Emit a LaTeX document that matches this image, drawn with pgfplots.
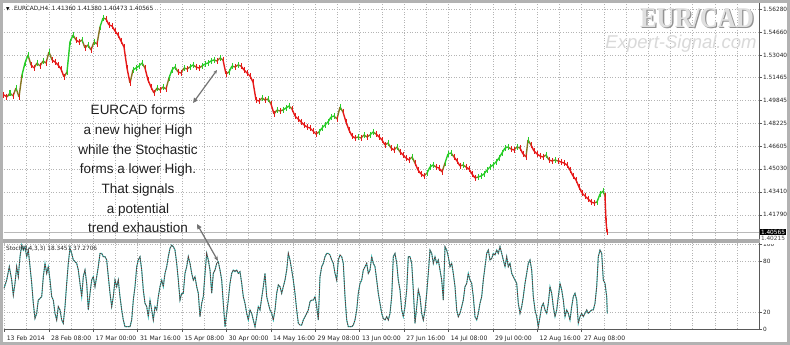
\documentclass[border=0pt]{standalone}
\usepackage{pgfplots}
\pgfplotsset{compat=1.18}
\usepackage{pgfplotstable}
\usepackage{fontspec}
\setmainfont{DejaVu Sans}
\newfontfamily\annfont{Liberation Sans}
\newfontfamily\wmserif{Liberation Serif}
\usetikzlibrary{arrows.meta}
\definecolor{cgreen}{RGB}{40,205,40}
\definecolor{cred}{RGB}{230,25,25}
\definecolor{kline}{RGB}{32,178,170}
\definecolor{dline}{RGB}{120,35,35}
\definecolor{gridc}{RGB}{180,180,180}

\pgfplotstableread{
x p c
4 1.50226 0
7 1.50085 0
10 1.50366 1
13 1.50155 0
16 1.50718 1
19 1.50085 0
22 1.51634 1
25 1.52478 1
28 1.53042 1
31 1.52338 0
34 1.52126 0
37 1.52478 1
40 1.52267 0
43 1.52619 1
46 1.52478 0
49 1.53253 1
52 1.52690 0
55 1.52549 0
58 1.52338 0
61 1.52056 0
64 1.51493 0
67 1.51845 1
70 1.53957 1
73 1.54450 1
76 1.54098 0
79 1.53957 0
82 1.54098 1
85 1.53534 0
88 1.53746 1
91 1.53394 0
94 1.53957 1
97 1.53816 0
100 1.55013 1
103 1.55646 1
106 1.55576 0
109 1.55154 0
112 1.55083 0
115 1.54731 0
118 1.54450 0
121 1.54027 0
124 1.53605 0
127 1.52126 0
130 1.51070 0
133 1.51986 1
136 1.52126 1
139 1.52267 1
142 1.52478 1
145 1.52126 0
148 1.51282 0
151 1.50789 0
154 1.50366 0
157 1.50718 1
160 1.50578 0
163 1.50789 1
166 1.50648 0
169 1.51422 1
172 1.51986 1
175 1.52197 1
178 1.51845 0
181 1.51774 0
184 1.52126 1
187 1.52056 0
190 1.52197 1
193 1.52338 1
196 1.52197 0
199 1.52126 0
202 1.52267 1
205 1.52408 1
208 1.52478 1
211 1.52619 1
214 1.52690 1
217 1.52619 0
220 1.52830 1
223 1.52690 0
226 1.51704 0
229 1.51845 1
232 1.52267 1
235 1.52197 0
238 1.52338 1
241 1.52267 0
244 1.51986 0
247 1.51774 0
250 1.51563 0
253 1.51141 0
256 1.49874 0
259 1.49803 0
262 1.50014 1
265 1.49874 0
268 1.49944 1
271 1.49592 0
274 1.48888 0
277 1.49170 1
280 1.49099 0
283 1.49170 1
286 1.49310 1
289 1.49451 1
292 1.49240 0
295 1.48747 0
298 1.48536 0
301 1.48325 0
304 1.48114 0
307 1.47973 0
310 1.47902 0
313 1.47691 0
316 1.47480 0
319 1.47621 1
322 1.47902 1
325 1.48114 1
328 1.48325 1
331 1.48677 1
334 1.48747 1
337 1.48536 0
340 1.49381 1
343 1.49029 0
346 1.48325 0
349 1.47762 0
352 1.47339 0
355 1.47198 0
358 1.47269 1
361 1.47198 0
364 1.47410 1
367 1.47269 0
370 1.47410 1
373 1.47621 1
376 1.47480 0
379 1.47269 0
382 1.47058 0
385 1.46706 0
388 1.46846 1
391 1.46494 0
394 1.46354 0
397 1.46565 1
400 1.46213 0
403 1.46002 0
406 1.45790 0
409 1.45650 0
412 1.45861 1
415 1.45438 0
418 1.44946 0
421 1.44664 0
424 1.44523 0
427 1.44734 1
430 1.45157 1
433 1.45298 1
436 1.45157 0
439 1.45086 0
442 1.44805 0
445 1.45438 1
448 1.46072 1
451 1.46142 1
454 1.45861 0
457 1.45579 0
460 1.45227 0
463 1.45298 1
466 1.45157 0
469 1.45016 0
472 1.44664 0
475 1.44382 0
478 1.44453 1
481 1.44523 1
484 1.44664 1
487 1.44946 1
490 1.45157 1
493 1.45298 1
496 1.45509 1
499 1.45790 1
502 1.46142 1
505 1.46494 1
508 1.46565 1
511 1.46424 0
514 1.46354 0
517 1.46565 1
520 1.46494 0
523 1.46072 0
526 1.45861 0
528 1.47058 1
531 1.46706 0
534 1.46283 0
537 1.46072 0
540 1.45931 0
543 1.45861 0
546 1.46002 1
549 1.45650 0
552 1.45579 0
555 1.45650 1
558 1.45579 0
561 1.45509 0
564 1.45438 0
567 1.45298 0
570 1.44946 0
573 1.44523 0
576 1.44242 0
579 1.43749 0
582 1.43326 0
585 1.43115 0
588 1.42904 0
591 1.42693 0
594 1.42622 0
597 1.42693 1
600 1.43256 1
603 1.43467 1
605 1.43115 0
606 1.41360 0
607 1.40565 0
}\price

\pgfplotstableread{
x v
4 47.8
6.7 57.6
9.3 73.3
11.7 57.6
13.3 40.0
15 53.7
16.7 73.3
18.3 61.6
20 85.1
21.7 98.8
23.3 92.9
25 96.9
26.7 85.1
28.3 92.9
30 73.3
31.7 53.7
33.3 30.2
35 12.5
36.7 18.4
38.3 34.1
40 36.1
41.7 38.0
43.3 61.6
45 77.3
46.7 65.5
48.3 73.3
50 57.6
51.7 38.0
53.3 34.1
55 18.4
56.7 10.6
58.3 26.3
60 22.4
61.7 10.6
63.3 6.7
65 26.3
66.7 53.7
68.3 77.3
70 94.9
71.7 89.0
73.3 81.2
75 79.2
76.7 77.3
78.3 69.4
80 53.7
81.7 38.0
83.3 61.6
85 69.4
86.7 53.7
88.3 22.4
90 42.0
91.7 57.6
93.3 61.6
95 49.8
96.7 61.6
98.3 73.3
100 89.0
101.7 89.0
103.3 85.1
105 85.1
106.7 81.2
108.3 61.6
110 42.0
111.7 26.3
113.3 38.0
115 57.6
116.7 49.8
118.3 57.6
120 38.0
121.7 22.4
123.3 10.6
125 2.7
126.7 2.7
128.3 2.7
130 2.7
131.7 10.6
133.3 34.1
135 49.8
136.7 73.3
138.3 81.2
140 85.1
141.7 69.4
143.3 45.9
145 30.2
146.7 26.3
148.3 14.5
150 34.1
151.7 22.4
153.3 10.6
155 26.3
156.7 22.4
158.3 38.0
160 49.8
161.7 57.6
163.3 49.8
165 65.5
166.7 73.3
168.3 85.1
170 94.9
171.7 98.8
173.3 96.9
175 92.9
176.7 77.3
178.3 57.6
180 34.1
181.7 42.0
183.3 42.0
185 65.5
186.7 73.3
188.3 85.1
190 77.3
191.7 65.5
193.3 57.6
195 61.6
196.7 49.8
198.3 42.0
200 14.5
201.7 30.2
203.3 38.0
205 65.5
206.7 89.0
208.3 81.2
210 69.4
211.7 42.0
213.3 65.5
215 69.4
216.7 77.3
218.3 79.2
220 69.4
221.7 57.6
223.3 30.2
225 2.7
226.7 18.4
228.3 34.1
230 53.7
231.7 65.5
233.3 69.4
235 67.5
236.7 69.4
238.3 65.5
240 67.5
241.7 53.7
243.3 38.0
245 30.2
246.7 18.4
248.3 10.6
250 22.4
251.7 18.4
253.3 10.6
255 2.7
256.7 14.5
258.3 26.3
260 22.4
263.3 49.8
265 65.5
266.7 38.0
268.3 30.2
270 22.4
271.7 18.4
273.3 10.6
275 22.4
276.7 42.0
278.3 51.8
280 49.8
281.7 42.0
283.3 49.8
285 57.6
286.7 69.4
288.3 89.0
290 81.2
291.7 69.4
293.3 57.6
295 42.0
296.7 22.4
298.3 6.7
300 4.7
301.7 4.7
303.3 10.6
305 14.5
306.7 18.4
308.3 22.4
310 32.2
311.7 34.1
313.3 34.1
315 38.0
316.7 26.3
318.3 10.6
320 61.6
321.7 73.3
323.3 77.3
325 85.1
326.7 89.0
328.3 89.0
330 87.1
331.7 81.2
333.3 77.3
335 65.5
336.7 57.6
338.3 81.2
340 87.1
341.7 85.1
343.3 77.3
345 38.0
346.7 10.6
348.3 2.7
350 2.7
351.7 2.7
353.3 4.7
355 10.6
356.7 22.4
358.3 42.0
360 53.7
361.7 57.6
363.3 69.4
365 73.3
366.7 77.3
368.3 65.5
370 69.4
371.7 85.1
373.3 77.3
375 73.3
376.7 57.6
378.3 42.0
380 30.2
381.7 18.4
383.3 12.5
385 10.6
386.7 14.5
388.3 10.6
390 18.4
391.7 38.0
393.3 85.1
395 89.0
396.7 77.3
398.3 57.6
400 45.9
401.7 22.4
403.3 14.5
405 26.3
406.7 45.9
408.3 85.1
410 85.1
411.7 77.3
413.3 45.9
415 6.7
416.7 26.3
418.3 45.9
420 38.0
421.7 18.4
423.3 10.6
425 22.4
426.7 42.0
428.3 65.5
430 92.9
431.7 89.0
433.3 77.3
435 85.1
436.7 77.3
438.3 81.2
440 69.4
441.7 57.6
443.3 34.1
445 96.9
446.7 92.9
448.3 85.1
450 73.3
451.7 77.3
453.3 65.5
455 49.8
456.7 22.4
458.3 14.5
460 18.4
461.7 26.3
463.3 34.1
465 49.8
466.7 53.7
468.3 65.5
470 57.6
471.7 53.7
473.3 38.0
475 14.5
476.7 10.6
478.3 18.4
480 30.2
481.7 38.0
483.3 57.6
485 73.3
486.7 89.0
488.3 92.9
490 81.2
491.7 83.1
493.3 89.0
495 87.1
496.7 92.9
498.3 89.0
500 96.9
501.7 89.0
503.3 81.2
505 73.3
506.7 85.1
508.3 73.3
510 77.3
511.7 65.5
513.3 61.6
515 57.6
516.7 53.7
518.3 30.2
520 18.4
521.7 26.3
523.3 38.0
525 53.7
526.7 65.5
528.3 77.3
530 81.2
531.7 69.4
533.3 38.0
535 22.4
536.7 14.5
538.3 2.7
540 14.5
541.7 26.3
543.3 30.2
545 22.4
546.7 18.4
548.3 30.2
550 49.8
551.7 42.0
553.3 26.3
555 14.5
556.7 22.4
558.3 38.0
560 53.7
561.7 45.9
563.3 34.1
565 14.5
566.7 22.4
568.3 18.4
570 10.6
571.7 26.3
573.3 38.0
575 42.0
576.7 34.1
578.3 6.7
580 14.5
581.7 18.4
583.3 14.5
585 18.4
586.7 22.4
588.3 18.4
590 20.4
591.7 22.4
593.3 22.4
595 30.2
596.7 49.8
598.3 85.1
600 92.9
601.7 89.0
603.3 57.6
605 53.7
606.7 38.0
607.3 18.4
}\stoch

\begin{document}
\begin{tikzpicture}
\useasboundingbox (0,0) rectangle (790pt,345pt);
\fill[white] (0,0) rectangle (790pt,345pt);

\pgfplotsset{
  mtstyle/.style={
    scale only axis, width=755pt, xmin=4, xmax=759,
    axis x line*=bottom, axis y line*=right,
    axis line style={draw=black!65, line width=0.6pt},
    grid style={gridc, dash pattern=on 1pt off 1.6pt, line width=0.5pt},
    minor grid style={gridc, dash pattern=on 1pt off 1.6pt, line width=0.5pt},
    tick align=outside, major tick length=3pt, minor tick length=0pt,
    tick style={black!65, line width=0.5pt},
    yticklabel style={font=\fontsize{5.8}{6}\selectfont, anchor=west, text=black!85, inner xsep=1pt},
    xticklabel style={font=\fontsize{6.1}{6}\selectfont, anchor=north west, text=black!85, xshift=-1.2pt, yshift=-0.5pt},
  }
}

\begin{axis}[mtstyle, at={(4pt,106pt)}, anchor=south west, height=236pt,
  ymin=1.40088, ymax=1.56702,
  xtick={26.7,48.9,...,740}, xticklabels={}, xmajorgrids, xtick style={draw=none},
  ytick={1.41790,1.43410,1.45030,1.46605,1.48225,1.49845,1.51465,1.53040,1.54660,1.56280},
  yticklabels={1.41790,1.43410,1.45030,1.46605,1.48225,1.49845,1.51465,1.53040,1.54660,1.56280},
  ymajorgrids,
  colormap={updown}{color(0)=(cred) color(1)=(cgreen)},
  point meta min=0, point meta max=1,
]
\addplot[gray!55, line width=0.5pt, forget plot] coordinates {(4,1.40565) (759,1.40565)};
\addplot[mesh, shader=flat mean, line width=1.4pt, point meta=\thisrow{c}] table[x=x, y=p] {\price};
\addplot[scatter, only marks, mark=|, mark size=3.1pt, point meta=\thisrow{c},
  every mark/.append style={line width=1.0pt},
  scatter/use mapped color={draw=mapped color, fill=mapped color}] table[x=x, y=p] {\price};
\end{axis}

\begin{axis}[mtstyle, at={(4pt,16pt)}, anchor=south west, height=86pt,
  ymin=0, ymax=101.2,
  xtick={4.5,48.9,...,582},
  xticklabels={13 Feb 2014,28 Feb 08:00,17 Mar 00:00,31 Mar 16:00,15 Apr 08:00,30 Apr 00:00,14 May 16:00,29 May 08:00,13 Jun 00:00,27 Jun 16:00,14 Jul 08:00,29 Jul 00:00,12 Aug 16:00,27 Aug 08:00},
  minor xtick={26.7,48.9,...,740},
  xmajorgrids, xminorgrids,
  ytick={0,20,80,100}, yticklabels={0,20,80,100}, ymajorgrids,
]
\addplot[kline, line width=1.0pt] table[x=x, y=v] {\stoch};
\addplot[dline, line width=0.7pt, dash pattern=on 1.3pt off 1.1pt] table[x=x, y=v] {\stoch};
\end{axis}

% separator between panels
\fill[gray!65] (3pt,102pt) rectangle (759.5pt,105.6pt);

% titles
\node[anchor=west, inner sep=0pt, font=\fontsize{4.5}{5}\selectfont] at (6pt,336pt) {▼};
\node[anchor=west, inner sep=0pt, font=\fontsize{5.8}{6}\selectfont, text=black!85] at (14pt,336pt) {EURCAD,H4\ \ 1.41360 1.41380 1.40473 1.40565};
\node[anchor=west, inner sep=0pt, font=\fontsize{5.8}{6}\selectfont, text=black!85] at (6pt,96pt) {Stoch(14,3,3) 18.3457 37.2706};

% current price box
\node[anchor=west, fill=black, text=white, inner sep=0.8pt, font=\fontsize{5.8}{6}\selectfont] at (760pt,113pt) {1.40565};
\node[anchor=west, inner sep=0.8pt, text=black!70, font=\fontsize{5.8}{6}\selectfont] at (760pt,106.5pt) {1.40215};
\fill[white] (760pt,100.5pt) rectangle (787pt,104.8pt);

% watermark
\node[font=\wmserif\bfseries\fontsize{25}{25}\selectfont, text=gray!85, yscale=1.15] at (698.3pt,325.7pt) {EUR/CAD};
\node[font=\wmserif\bfseries\fontsize{25}{25}\selectfont, text=gray!25, yscale=1.15] at (697pt,327pt) {EUR/CAD};
\node[font=\annfont\itshape\fontsize{18.5}{19}\selectfont, text=gray!30] at (681pt,301pt) {Expert-Signal.com};

% annotation
\begin{scope}[every node/.style={anchor=base, inner sep=0pt, font=\annfont\fontsize{13.5}{15}\selectfont, text=black!88}]
\node at (138pt,230.2pt) {EURCAD forms};
\node at (138pt,210.5pt) {a new higher High};
\node at (138pt,190.8pt) {while the Stochastic};
\node at (138pt,171.2pt) {forms a lower High.};
\node at (138pt,151.5pt) {That signals};
\node at (138pt,131.9pt) {a potential};
\node at (138pt,112.2pt) {trend exhaustion};
\end{scope}

% arrows
\draw[black!55, line width=1.2pt, {Triangle[length=5pt,width=4.5pt]}-{Stealth[length=4pt,width=3.5pt]}] (193pt,242pt) -- (217pt,275pt);
\draw[black!55, line width=1.2pt, {Triangle[length=5pt,width=4.5pt]}-{Stealth[length=5pt,width=4pt]}] (197pt,121pt) -- (218pt,84pt);

% outer frame
\draw[gray!60, line width=3pt] (1.5pt,1.5pt) rectangle (788.5pt,343.5pt);
\end{tikzpicture}
\end{document}
